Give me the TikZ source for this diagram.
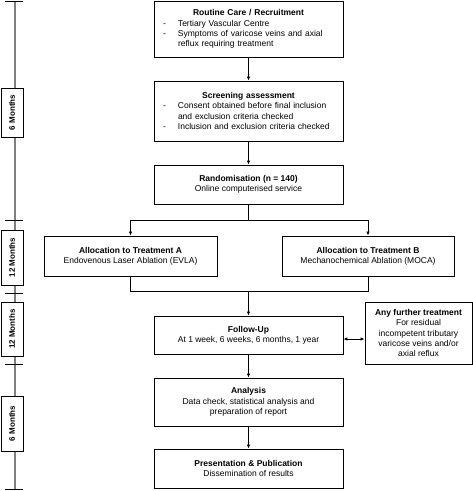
\documentclass[tikz,border=0pt]{standalone}
\usepackage{fontspec}
\setmainfont{Liberation Sans}
\usetikzlibrary{arrows.meta}
\tikzset{
  box/.style={draw, line width=0.9pt, rectangle, inner sep=0pt, align=center, font=\fontsize{8.5}{10.3}\selectfont},
  bulletbox/.style={box, align=left},
  conn/.style={line width=0.8pt},
  arr/.style={conn, -{Latex[length=4pt,width=3.5pt]}},
  darr/.style={conn, {Latex[length=4pt,width=3.5pt]}-{Latex[length=4pt,width=3.5pt]}},
  tline/.style={line width=2pt, draw=black!50},
  tick/.style={line width=0.8pt},
  tlabel/.style={draw, fill=white, line width=0.9pt, rotate=90, inner sep=0pt, minimum height=22pt, font=\fontsize{8}{9}\selectfont\bfseries}
}
\newcommand{\bitem}[1]{\par\noindent\makebox[15pt][l]{-}#1}
\newcommand{\bcont}[1]{\par\noindent\hspace*{15pt}#1}
\begin{document}
\begin{tikzpicture}[x=1pt,y=-1pt]
\useasboundingbox (0,0) rectangle (473,491);
% timeline
\draw[tline] (15,1) -- (15,489);
\foreach \yy in {1,220,293,364,489} \draw[tick] (5,\yy) -- (23,\yy);
\node[tlabel, minimum width=49pt] (t1) at (12,112.5) {6 Months};
\node[tlabel, minimum width=55pt] (t2) at (12,257.5) {12 Months};
\node[tlabel, minimum width=54pt] (t3) at (12,329) {12 Months};
\node[tlabel, minimum width=55pt] (t4) at (12,423.5) {6 Months};
% boxes
\node[bulletbox, minimum width=189pt, minimum height=56pt, text width=171pt] (b1) at (248.5,29)
 {{\centering\textbf{Routine Care / Recruitment}\par}
  \bitem{Tertiary Vascular Centre}
  \bitem{Symptoms of varicose veins and axial}
  \bcont{reflux requiring treatment}\par};
\node[bulletbox, minimum width=189pt, minimum height=60pt, text width=171pt] (b2) at (248.5,111)
 {{\centering\textbf{Screening assessment}\par}
  \bitem{Consent obtained before final inclusion}
  \bcont{and exclusion criteria checked}
  \bitem{Inclusion and exclusion criteria checked}\par};
\node[box, minimum width=189pt, minimum height=39pt] (b3) at (248.5,184.5)
 {\textbf{Randomisation (n = 140)}\\Online computerised service};
\node[box, minimum width=173pt, minimum height=40pt] (bA) at (130.5,256)
 {\textbf{Allocation to Treatment A}\\Endovenous Laser Ablation (EVLA)};
\node[box, minimum width=172pt, minimum height=40pt] (bB) at (368,256)
 {\textbf{Allocation to Treatment B}\\Mechanochemical Ablation (MOCA)};
\node[box, minimum width=189pt, minimum height=38pt] (bF) at (248.5,335)
 {\textbf{Follow-Up}\\At 1 week, 6 weeks, 6 months, 1 year};
\node[box, minimum width=107pt, minimum height=62pt] (bT) at (418.5,333)
 {\textbf{Any further treatment}\\For residual\\incompetent tributary\\varicose veins and/or\\axial reflux};
\node[box, minimum width=189pt, minimum height=48pt] (bN) at (248.5,402)
 {\textbf{Analysis}\\Data check, statistical analysis and\\preparation of report};
\node[box, minimum width=189pt, minimum height=39pt] (bP) at (248.5,468.5)
 {\textbf{Presentation \& Publication}\\Dissemination of results};
% connectors
\draw[arr] (b1) -- (b2);
\draw[arr] (b2) -- (b3);
\coordinate (s) at (248.5,220.5);
\draw[conn] (b3.south) -- (s);
\draw[arr] (s) -| (bA.north);
\draw[arr] (s) -| (bB.north);
\coordinate (m) at (248.5,291);
\draw[conn] (bA.south) |- (m);
\draw[conn] (bB.south) |- (m);
\draw[arr] (m) -- (bF.north);
\draw[darr] (bF.east |- 0,339) -- (bT.west |- 0,339);
\draw[arr] (bF) -- (bN);
\draw[arr] (bN) -- (bP);
\end{tikzpicture}
\end{document}
